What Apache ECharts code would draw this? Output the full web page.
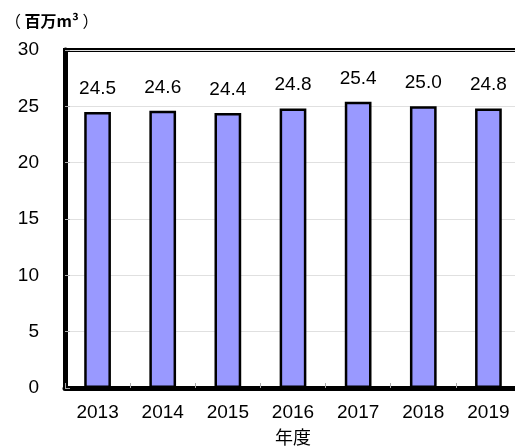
<!DOCTYPE html>
<html><head><meta charset="utf-8">
<script src="https://cdn.jsdelivr.net/npm/echarts@6/dist/echarts.min.js"></script>
<style>html,body{margin:0;padding:0;background:#fff}#c{width:515px;height:447px}</style>
</head><body><div id="c"></div>
<script>
const categories = ['2013','2014','2015','2016','2017','2018','2019'];
const values = [24.5, 24.6, 24.4, 24.8, 25.4, 25.0, 24.8];
const unitText = '百万m³';
const xAxisName = '年度';

const font = '"Liberation Sans", Arial, sans-serif';
const cjk = '"Noto Sans CJK JP", sans-serif';
const chart = echarts.init(document.getElementById('c'));
chart.setOption({
  animation: false,
  title: {
    text: '{p|（ }{b|' + unitText + '}{p| ）}', left: 0, top: 8,
    textStyle: {
      fontSize: 16, color: '#000', fontFamily: cjk,
      rich: {
        p: {fontSize: 16, fontWeight: 'normal', color: '#000', fontFamily: cjk},
        b: {fontSize: 16, fontWeight: 'bold', color: '#000', fontFamily: cjk}
      }
    }
  },
  grid: {
    left: 65, right: -6, top: 50, bottom: 59, outerBoundsMode: 'none', containLabel: false,
    show: true, borderColor: '#000', borderWidth: 4, backgroundColor: 'transparent'
  },
  xAxis: {
    type: 'category', data: categories,
    name: xAxisName, nameLocation: 'middle', nameGap: 40,
    nameTextStyle: {fontSize: 18, color: '#000', fontFamily: cjk},
    axisLine: {lineStyle: {color: '#000', width: 5}},
    axisTick: {show: true, inside: true, length: 5, lineStyle: {color: '#aaa'}},
    axisLabel: {fontSize: 19, color: '#000', margin: 15, fontFamily: font}
  },
  yAxis: {
    type: 'value', min: 0, max: 30, interval: 5,
    axisLine: {show: true, lineStyle: {color: '#000', width: 5}},
    axisTick: {show: true, inside: true, length: 5, lineStyle: {color: '#aaa'}},
    splitLine: {show: true, lineStyle: {color: '#e0e0e0', width: 1}},
    axisLabel: {fontSize: 19, color: '#000', margin: 26, fontFamily: font}
  },
  series: [{
    type: 'bar', data: values, barWidth: '41%',
    itemStyle: {color: '#9999FF', borderColor: '#000', borderWidth: 2.5},
    label: {
      show: true, position: 'top', distance: 14,
      formatter: p => p.value.toFixed(1),
      fontSize: 19, color: '#000', fontFamily: font
    }
  }]
});
</script></body></html>
